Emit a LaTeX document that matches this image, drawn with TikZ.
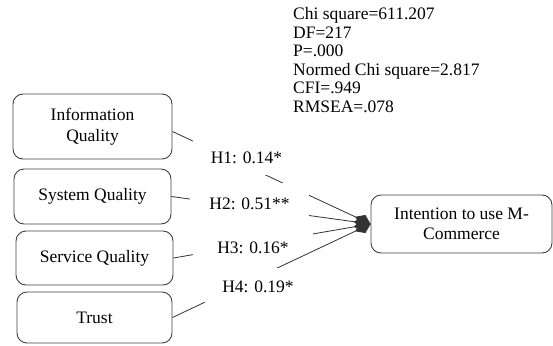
\documentclass[tikz,border=0pt]{standalone}
\usepackage{fontspec}
\setmainfont{Liberation Serif}
\usetikzlibrary{arrows.meta}
\tikzset{
  box/.style={draw=black!75,line width=0.9pt,rounded corners=10pt,align=center,inner sep=0pt,font=\fontsize{17.5}{20.5}\selectfont},
  hyp/.style={fill=white,inner sep=0pt,font=\fontsize{17.5}{20}\selectfont},
  link/.style={draw=black!80,line width=0.8pt,-{Diamond[length=17pt,width=12pt]}}
}
\begin{document}
\begin{tikzpicture}[x=1pt,y=-1pt]
\useasboundingbox (0,0) rectangle (553,345);
\node[anchor=north west,inner sep=0pt,align=left,font=\fontsize{17.5}{18.5}\selectfont] (fit) at (293,7.5) {Chi square=611.207\\DF=217\\P=.000\\Normed Chi square=2.817\\CFI=.949\\RMSEA=.078};
\node[box,minimum width=159pt,minimum height=65pt] (iq) at (92.5,126.5) {Information\\Quality};
\node[box,minimum width=157pt,minimum height=55pt] (sq) at (92.5,196.5) {System Quality};
\node[box,minimum width=157pt,minimum height=54pt] (svq) at (94.5,258) {Service Quality};
\node[box,minimum width=155pt,minimum height=51pt] (tr) at (94.5,317.5) {Trust};
\node[box,minimum width=181pt,minimum height=58pt] (int) at (461.5,224) {Intention to use M-\\Commerce};
\draw[link] ([yshift=-5pt]iq.east) -- (int.west);
\draw[link] (sq.east) -- (int.west);
\draw[link] (svq.east) -- (int.west);
\node[hyp,minimum width=107pt,minimum height=35pt] (h1) at (246.5,157.5) {H1: 0.14*};
\node[hyp,minimum width=119pt,minimum height=42pt] (h2) at (249.5,204) {H2: 0.51**};
\node[hyp,minimum width=120pt,minimum height=36pt] (h3) at (253,248) {H3: 0.16*};
\draw[link] (tr.east) -- (int.west);
\node[hyp,minimum width=106pt,minimum height=38pt] (h4) at (258,287) {H4: 0.19*};
\end{tikzpicture}
\end{document}
